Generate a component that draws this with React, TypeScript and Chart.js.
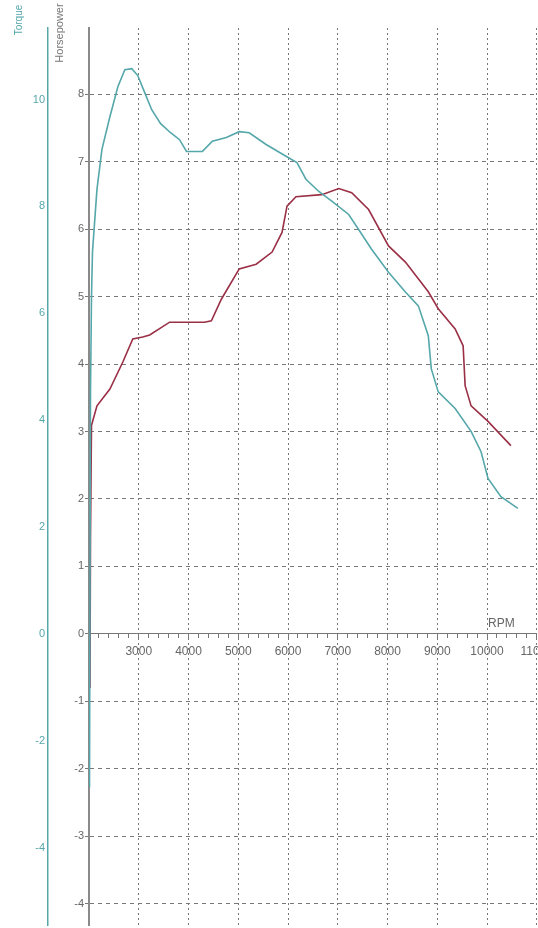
import React, { useEffect, useRef } from "react";
import { Chart, registerables } from "chart.js";

Chart.register(...registerables);

// RPM / torque curve (teal)
const torqueRpm = [2010, 2030, 2050, 2070, 2160, 2260, 2420, 2580, 2720, 2860, 2980, 3120, 3260, 3440, 3640, 3820, 3960, 4280, 4480, 4760, 5020, 5220, 5560, 5960, 6180, 6360, 6620, 6880, 7220, 7420, 7680, 8020, 8360, 8620, 8820, 8880, 9020, 9360, 9680, 9880, 10020, 10280, 10620];
const torqueValues = [-2.87, 4.5, 6.3, 7.15, 8.32, 9.07, 9.68, 10.24, 10.56, 10.58, 10.45, 10.13, 9.81, 9.55, 9.38, 9.25, 9.03, 9.03, 9.22, 9.29, 9.4, 9.38, 9.16, 8.94, 8.82, 8.51, 8.28, 8.1, 7.85, 7.57, 7.2, 6.77, 6.4, 6.14, 5.58, 4.96, 4.53, 4.22, 3.79, 3.41, 2.91, 2.57, 2.35];

// RPM / horsepower curve (maroon)
const powerRpm = [2020, 2030, 2050, 2160, 2420, 2680, 2880, 3080, 3220, 3620, 4320, 4460, 4660, 5020, 5360, 5680, 5880, 5980, 6160, 6680, 7020, 7280, 7620, 8020, 8360, 8820, 9020, 9360, 9520, 9560, 9680, 10020, 10480];
const powerValues = [-0.8, 1.42, 3.09, 3.38, 3.63, 4.03, 4.37, 4.4, 4.43, 4.62, 4.62, 4.64, 4.96, 5.41, 5.48, 5.66, 5.95, 6.34, 6.48, 6.51, 6.6, 6.54, 6.29, 5.75, 5.51, 5.07, 4.82, 4.52, 4.27, 3.68, 3.38, 3.15, 2.79];

// Axis settings
const rpmMin = 2000;
const rpmMax = 11000;
const rpmMinorStep = 200;
const rpmMajorStep = 1000;
const hpMin = -4.32;
const hpMax = 8.98;
const hpStep = 1;
const torqueMin = -5.455;
const torqueMax = 11.34;
const torqueStep = 2;

const TEAL = "#55a7aa";
const MAROON = "#9a2f45";
const GREY = "#777777";
const FONT = "'Liberation Sans', Arial, sans-serif";

const textPlugin = {
  id: "extraText",
  afterDraw(chart: any) {
    const { ctx, scales } = chart;
    const x = scales.x;
    const hp = scales.hp;
    const tq = scales.torque;
    ctx.save();
    ctx.fillStyle = "#666";
    ctx.font = `12px ${FONT}`;
    ctx.textAlign = "left";
    ctx.textBaseline = "bottom";
    ctx.fillText("RPM", x.getPixelForValue(10000) + 1, hp.getPixelForValue(0) - 4);
    ctx.save();
    ctx.translate(tq.left + 19, 20);
    ctx.rotate(-Math.PI / 2);
    ctx.textAlign = "center";
    ctx.textBaseline = "middle";
    ctx.fillStyle = TEAL;
    ctx.font = `10px ${FONT}`;
    ctx.fillText("Torque", 0, 0);
    ctx.restore();
    ctx.save();
    ctx.translate(hp.left + 12, 33);
    ctx.rotate(-Math.PI / 2);
    ctx.textAlign = "center";
    ctx.textBaseline = "middle";
    ctx.fillStyle = "#777";
    ctx.font = `11px ${FONT}`;
    ctx.fillText("Horsepower", 0, 0);
    ctx.restore();
    ctx.restore();
  },
};

export default function App() {
  const ref = useRef<HTMLCanvasElement | null>(null);
  useEffect(() => {
    if (!ref.current) return;
    const chart = new Chart(ref.current, {
      type: "line",
      data: {
        datasets: [
          {
            label: "Torque",
            data: torqueRpm.map((r, i) => ({ x: r, y: torqueValues[i] })),
            yAxisID: "torque",
            borderColor: TEAL,
            borderWidth: 1.6,
            pointRadius: 0,
            tension: 0,
          },
          {
            label: "Horsepower",
            data: powerRpm.map((r, i) => ({ x: r, y: powerValues[i] })),
            yAxisID: "hp",
            borderColor: MAROON,
            borderWidth: 1.6,
            pointRadius: 0,
            tension: 0,
          },
        ],
      },
      options: {
        responsive: false,
        animation: false,
        layout: { padding: { top: 28, right: 21, bottom: 0, left: 0 } },
        plugins: { legend: { display: false }, tooltip: { enabled: false } },
        scales: {
          x: {
            type: "linear",
            position: { hp: 0 } as any,
            min: rpmMin,
            max: rpmMax,
            ticks: {
              stepSize: rpmMinorStep,
              autoSkip: false,
              maxRotation: 0,
              padding: 7,
              color: "#666",
              font: { family: FONT, size: 12 },
              callback: (v: any) =>
                v % rpmMajorStep === 0 && v > rpmMin ? String(v) : "",
            },
            grid: {
              color: (c: any) =>
                c.tick && c.tick.value % rpmMajorStep === 0 && c.tick.value > rpmMin
                  ? GREY
                  : "rgba(0,0,0,0)",
              lineWidth: 1,
              tickColor: GREY,
              tickLength: 4,
            },
            border: { display: true, color: GREY, width: 1, dash: [2, 3] },
          },
          hp: {
            type: "linear",
            position: "left",
            weight: 1,
            min: hpMin,
            max: hpMax,
            afterFit: (s: any) => {
              s.width = 41;
            },
            ticks: {
              stepSize: hpStep,
              includeBounds: false,
              padding: 1,
              color: "#666",
              font: { family: FONT, size: 11 },
            },
            grid: {
              color: GREY,
              lineWidth: 1,
              tickLength: 4,
              tickColor: GREY,
            },
            border: { display: true, color: "#8a8a8a", width: 2, dash: [4, 4] },
          },
          torque: {
            type: "linear",
            position: "left",
            weight: 2,
            min: torqueMin,
            max: torqueMax,
            afterFit: (s: any) => {
              s.width = 48;
            },
            ticks: {
              stepSize: torqueStep,
              includeBounds: false,
              padding: 3,
              color: TEAL,
              font: { family: FONT, size: 11 },
            },
            grid: {
              drawOnChartArea: false,
              drawTicks: false,
              color: TEAL,
            },
            border: { display: true, color: TEAL, width: 1.5 },
          },
        },
      },
      plugins: [textPlugin],
    });
    return () => chart.destroy();
  }, []);
  return (
    <div style={{ position: "absolute", left: 0, top: 0, width: 560, height: 935, overflow: "hidden" }}>
      <canvas ref={ref} width={560} height={935} />
    </div>
  );
}
